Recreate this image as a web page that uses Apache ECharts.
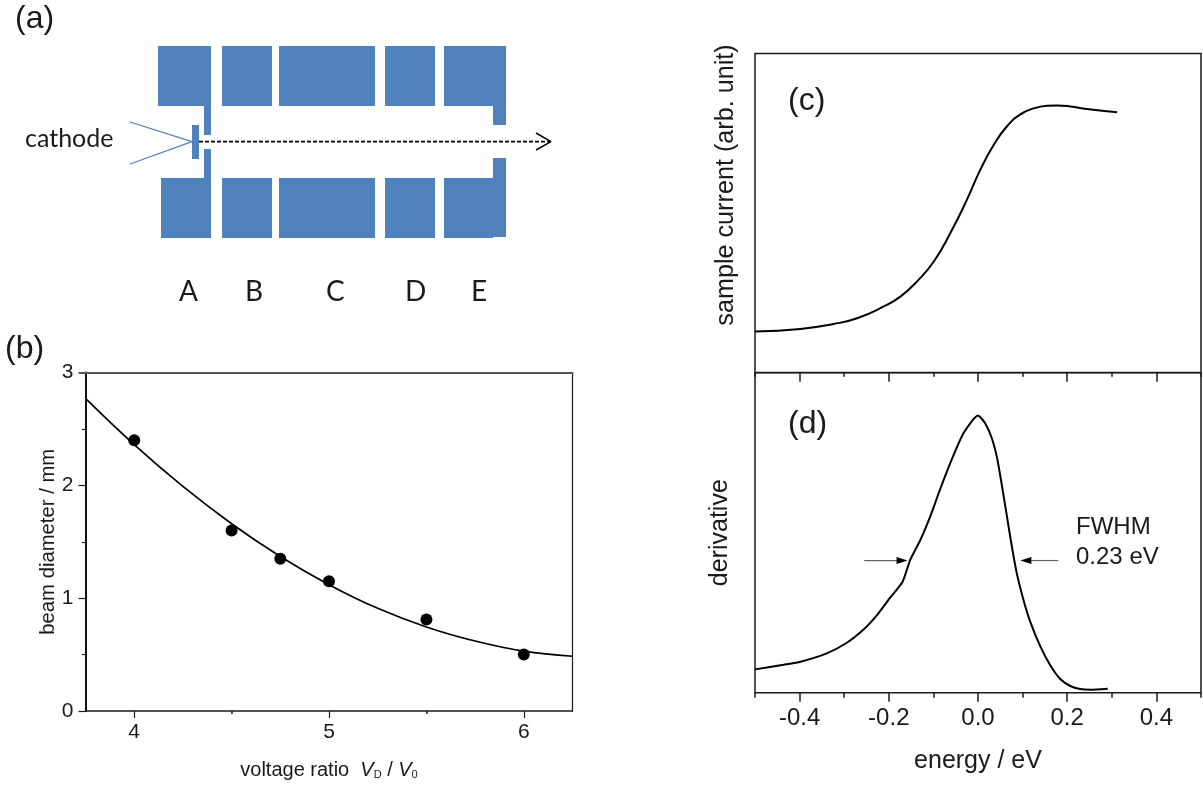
<!DOCTYPE html>
<html><head><meta charset="utf-8">
<style>html,body{margin:0;padding:0;background:#fff}#c{width:1203px;height:787px}</style>
<script src="https://cdn.jsdelivr.net/npm/echarts@6/dist/echarts.min.js"></script>
</head><body><div id="c"></div>
<script>
// Panel (a) schematic, in picture units: [x0, y0, x1, y1]
const electrodes = [
  [158,46,211,106],[204,106,211,135],[161,178,211,238],[204,149,211,178],
  [222,46,272,106],[222,178,272,238],
  [279,46,375,106],[279,178,375,238],
  [385,46,435,106],[385,178,435,238],
  [444,46,506,106],[493,106,506,125],[444,178,493,238],[493,158,506,237],
  [192,125,199,159]
];
const leadUpper = [[130,122],[192,141.7]];
const leadLower = [[130,164],[192,141.7]];
const beamPath = [[199,141.7],[550,141.7]];
const arrowHead = [[536,133],[551,141.7],[536,150]];
const electrodeNames = ['A','B','C','D','E'];

// Panel (b)
const fitX = [3.75,4,4.25,4.5,4.75,5,5.25,5.5,5.75,6,6.25];
const fitY = [2.77,2.36,1.99,1.66,1.37,1.12,0.91,0.745,0.62,0.53,0.485];
const measuredX = [4,4.5,4.75,5,5.5,6];
const measuredY = [2.4,1.6,1.35,1.15,0.81,0.5];

// Panel (c)
const energyC = [-0.5,-0.398,-0.324,-0.271,-0.2115,-0.174,-0.137,-0.099,-0.062,-0.025,0.005,0.035,0.065,0.095,0.125,0.155,0.177,0.207,0.244,0.312];
const currentC = [12.84,13.67,15.2,17.0,20.7,23.8,28.5,34.8,43.7,54.1,63.5,71.3,77.2,80.9,82.8,83.6,83.7,83.4,82.6,81.6];

// Panel (d)
const energyD = [-0.5,-0.436,-0.398,-0.339,-0.294,-0.256,-0.226,-0.197,-0.169,-0.152,-0.129,-0.107,-0.088,-0.062,-0.032,0,0.016,0.031,0.043,0.054,0.065,0.076,0.087,0.102,0.117,0.14,0.162,0.185,0.207,0.229,0.252,0.291];
const derivD = [7.29,8.75,9.69,12.3,15.6,19.8,24.3,29.7,34.7,41.5,47.8,55.1,62.4,71.8,81.2,86.6,84.2,79.5,73.2,64.4,55.0,45.6,37.3,29.0,22.2,14.4,8.6,4.2,2.1,1.15,0.94,1.25];
const fwhmArrows = [[-0.255,41.3,-0.158,41.3],[0.18,41.3,0.095,41.3]];

const pairs = (xs, ys) => xs.map((x, i) => [x, ys[i]]);
const FONT = '"Liberation Sans", Arial, sans-serif';
const CAL = 'Lato, sans-serif';
const INK = '#1a1a1a';
const BLUE = '#4f81bd';
const hidden = {show:false};
const plain = {silent:true, animation:false, symbol:'none'};
const quiet = {axisLine:{show:false}, axisLabel:{show:false}, splitLine:{show:false}};

const chart = echarts.init(document.getElementById('c'), null, {renderer:'canvas'});

const line = (idx, data, style, extra) => Object.assign({type:'line', xAxisIndex:idx, yAxisIndex:idx, data, lineStyle:style}, plain, extra||{});

const xTick = (gridIndex, min, max, values, length, position, inside) => Object.assign({
  type:'value', gridIndex, min, max, position,
  axisTick:{show:true, inside:!!inside, length, customValues:values, lineStyle:{color:INK,width:1.5}}
}, quiet);

const option = {
  animation:false,
  backgroundColor:'#fff',
  grid:[
    {left:0, top:0, width:1203, height:787, show:false},
    {left:85.5, top:372.5, width:487, height:338.5, show:false},
    {left:755, top:53.5, width:446, height:319, show:true, borderColor:INK, borderWidth:1.5},
    {left:755, top:372.7, width:446, height:320, show:true, borderColor:INK, borderWidth:1.5}
  ],
  xAxis:[
    {type:'value', gridIndex:0, min:0, max:1203, show:false},
    {type:'value', gridIndex:1, min:3.75, max:6.25, position:'bottom',
      name:'voltage ratio  {i|V}{s|D} / {i|V}{s|0}', nameLocation:'middle', nameGap:49,
      nameTextStyle:{fontFamily:FONT, fontSize:20, color:INK, rich:{
        i:{fontFamily:FONT, fontSize:20, fontStyle:'italic', color:INK},
        s:{fontFamily:FONT, fontSize:11, color:INK, verticalAlign:'bottom', padding:[8,0,0,0]}
      }},
      axisLine:{show:true, onZero:false, lineStyle:{color:INK, width:1.5}}, splitLine:hidden,
      axisTick:{show:true, length:7, customValues:[4,5,6], lineStyle:{color:INK, width:1.2}},
      axisLabel:{show:true, customValues:[4,5,6], fontFamily:FONT, fontSize:21, color:INK, margin:11, formatter:v=>String(v)}},
    {type:'value', gridIndex:2, min:-0.5, max:0.5, show:false},
    {type:'value', gridIndex:3, min:-0.5, max:0.5, position:'bottom',
      name:'energy / eV', nameLocation:'middle', nameGap:56,
      nameTextStyle:{fontFamily:FONT, fontSize:25, color:INK},
      axisLine:{show:false}, splitLine:hidden,
      axisTick:{show:true, length:9, customValues:[-0.4,-0.2,0,0.2,0.4], lineStyle:{color:INK, width:1.5}},
      axisLabel:{show:true, customValues:[-0.4,-0.2,0,0.2,0.4], fontFamily:FONT, fontSize:24, color:INK, margin:14, formatter:v=>v.toFixed(1)}},
    xTick(1,3.75,6.25,[4.5,5.5],3,'bottom'),
    xTick(3,-0.5,0.5,[-0.5,-0.3,-0.1,0.1,0.3,0.5],5,'bottom'),
    xTick(3,-0.5,0.5,[-0.4,-0.2,0,0.2,0.4],9,'top',true),
    xTick(3,-0.5,0.5,[-0.5,-0.3,-0.1,0.1,0.3,0.5],4,'top',true),
    {type:'value', gridIndex:1, min:3.75, max:6.25, position:'top',
      axisLine:{show:true, onZero:false, lineStyle:{color:'#555', width:2}},
      axisTick:hidden, axisLabel:hidden, splitLine:hidden}
  ],
  yAxis:[
    {type:'value', gridIndex:0, min:0, max:787, inverse:true, show:false},
    {type:'value', gridIndex:1, min:0, max:3, position:'left',
      name:'beam diameter / mm', nameLocation:'middle', nameGap:26,
      nameTextStyle:{fontFamily:FONT, fontSize:20.3, color:INK},
      axisLine:{show:true, onZero:false, lineStyle:{color:'#111', width:2}}, splitLine:hidden,
      axisTick:{show:true, length:7, customValues:[0,1,2], lineStyle:{color:INK, width:1.2}},
      axisLabel:{customValues:[0,1,2,3], fontFamily:FONT, fontSize:21, color:INK, margin:12}},
    {type:'value', gridIndex:2, min:0, max:100, position:'left',
      name:'sample current (arb. unit)', nameLocation:'middle', nameGap:16,
      nameTextStyle:{fontFamily:FONT, fontSize:25.2, color:INK, padding:[0,0,0,56]},
      axisLine:{show:false}, axisTick:hidden, axisLabel:hidden, splitLine:hidden},
    {type:'value', gridIndex:3, min:0, max:100, position:'left',
      name:'derivative', nameLocation:'middle', nameGap:22,
      nameTextStyle:{fontFamily:FONT, fontSize:25, color:INK},
      axisLine:{show:false}, axisTick:hidden, axisLabel:hidden, splitLine:hidden},
    {type:'value', gridIndex:1, min:0, max:3, position:'left',
      axisLine:{show:false}, axisLabel:hidden, splitLine:hidden,
      axisTick:{show:true, length:3.5, customValues:[0.5,1.5,2.5], lineStyle:{color:INK, width:1.2}}},
    {type:'value', gridIndex:1, min:0, max:3, position:'left',
      axisLine:{show:false}, axisLabel:hidden, splitLine:hidden,
      axisTick:{show:true, length:7, customValues:[3], lineStyle:{color:'#555', width:2}}},
    {type:'value', gridIndex:1, min:0, max:3, position:'right',
      axisLine:{show:true, onZero:false, lineStyle:{color:INK, width:1.2}},
      axisTick:hidden, axisLabel:hidden, splitLine:hidden}
  ],
  series:[
    {type:'custom', xAxisIndex:0, yAxisIndex:0, silent:true, animation:false, data:electrodes,
      renderItem(params, api){
        const a = api.coord([api.value(0), api.value(1)]);
        const b = api.coord([api.value(2), api.value(3)]);
        return {type:'rect', shape:{x:a[0], y:a[1], width:b[0]-a[0], height:b[1]-a[1]}, style:{fill:BLUE}};
      }},
    line(0, leadUpper, {color:BLUE, width:1.3}),
    line(0, leadLower, {color:BLUE, width:1.3}),
    line(0, beamPath, {color:'#000', width:1.7, type:[4,2]}),
    line(0, arrowHead, {color:'#000', width:1.5}),
    line(1, pairs(fitX, fitY), {color:'#000', width:1.7}, {smooth:0.4}),
    {type:'scatter', xAxisIndex:1, yAxisIndex:1, data:pairs(measuredX, measuredY), symbol:'circle', symbolSize:12, itemStyle:{color:'#000', opacity:1}, silent:true, animation:false},
    line(2, pairs(energyC, currentC), {color:'#000', width:2}, {smooth:0.5}),
    line(3, pairs(energyD, derivD), {color:'#000', width:2}, {smooth:0.2}),
    {type:'custom', xAxisIndex:3, yAxisIndex:3, silent:true, animation:false, data:fwhmArrows,
      renderItem(params, api){
        const a = api.coord([api.value(0), api.value(1)]);
        const b = api.coord([api.value(2), api.value(3)]);
        const d = Math.sign(b[0]-a[0]);
        return {type:'group', children:[
          {type:'line', shape:{x1:a[0], y1:a[1], x2:b[0]-d*8, y2:b[1]}, style:{stroke:'#666', lineWidth:1.2}},
          {type:'polygon', shape:{points:[[b[0],b[1]],[b[0]-d*11,b[1]-3.5],[b[0]-d*11,b[1]+3.5]]}, style:{fill:'#000'}}
        ]};
      }}
  ],
  graphic:[
    {type:'text', left:15, top:3, style:{text:'(a)', font:'32px '+FONT, fill:INK}},
    {type:'text', left:5, top:333, style:{text:'(b)', font:'32px '+FONT, fill:INK}},
    {type:'text', left:788, top:85, style:{text:'(c)', font:'32px '+FONT, fill:INK}},
    {type:'text', left:788, top:408, style:{text:'(d)', font:'32px '+FONT, fill:INK}},
    {type:'text', left:1076, top:515, style:{text:'FWHM', font:'24px '+FONT, fill:INK}},
    {type:'text', left:1076, top:545, style:{text:'0.23 eV', font:'24px '+FONT, fill:INK}},
    {type:'text', left:25, top:126, style:{text:'cathode', font:'25px '+CAL, fill:INK}},
    ...electrodeNames.map((t, i) => ({type:'text', left:[179,245,326,405,471][i], top:278, style:{text:t, font:'28px '+CAL, fill:INK}}))
  ]
};
chart.setOption(option);
</script></body></html>
